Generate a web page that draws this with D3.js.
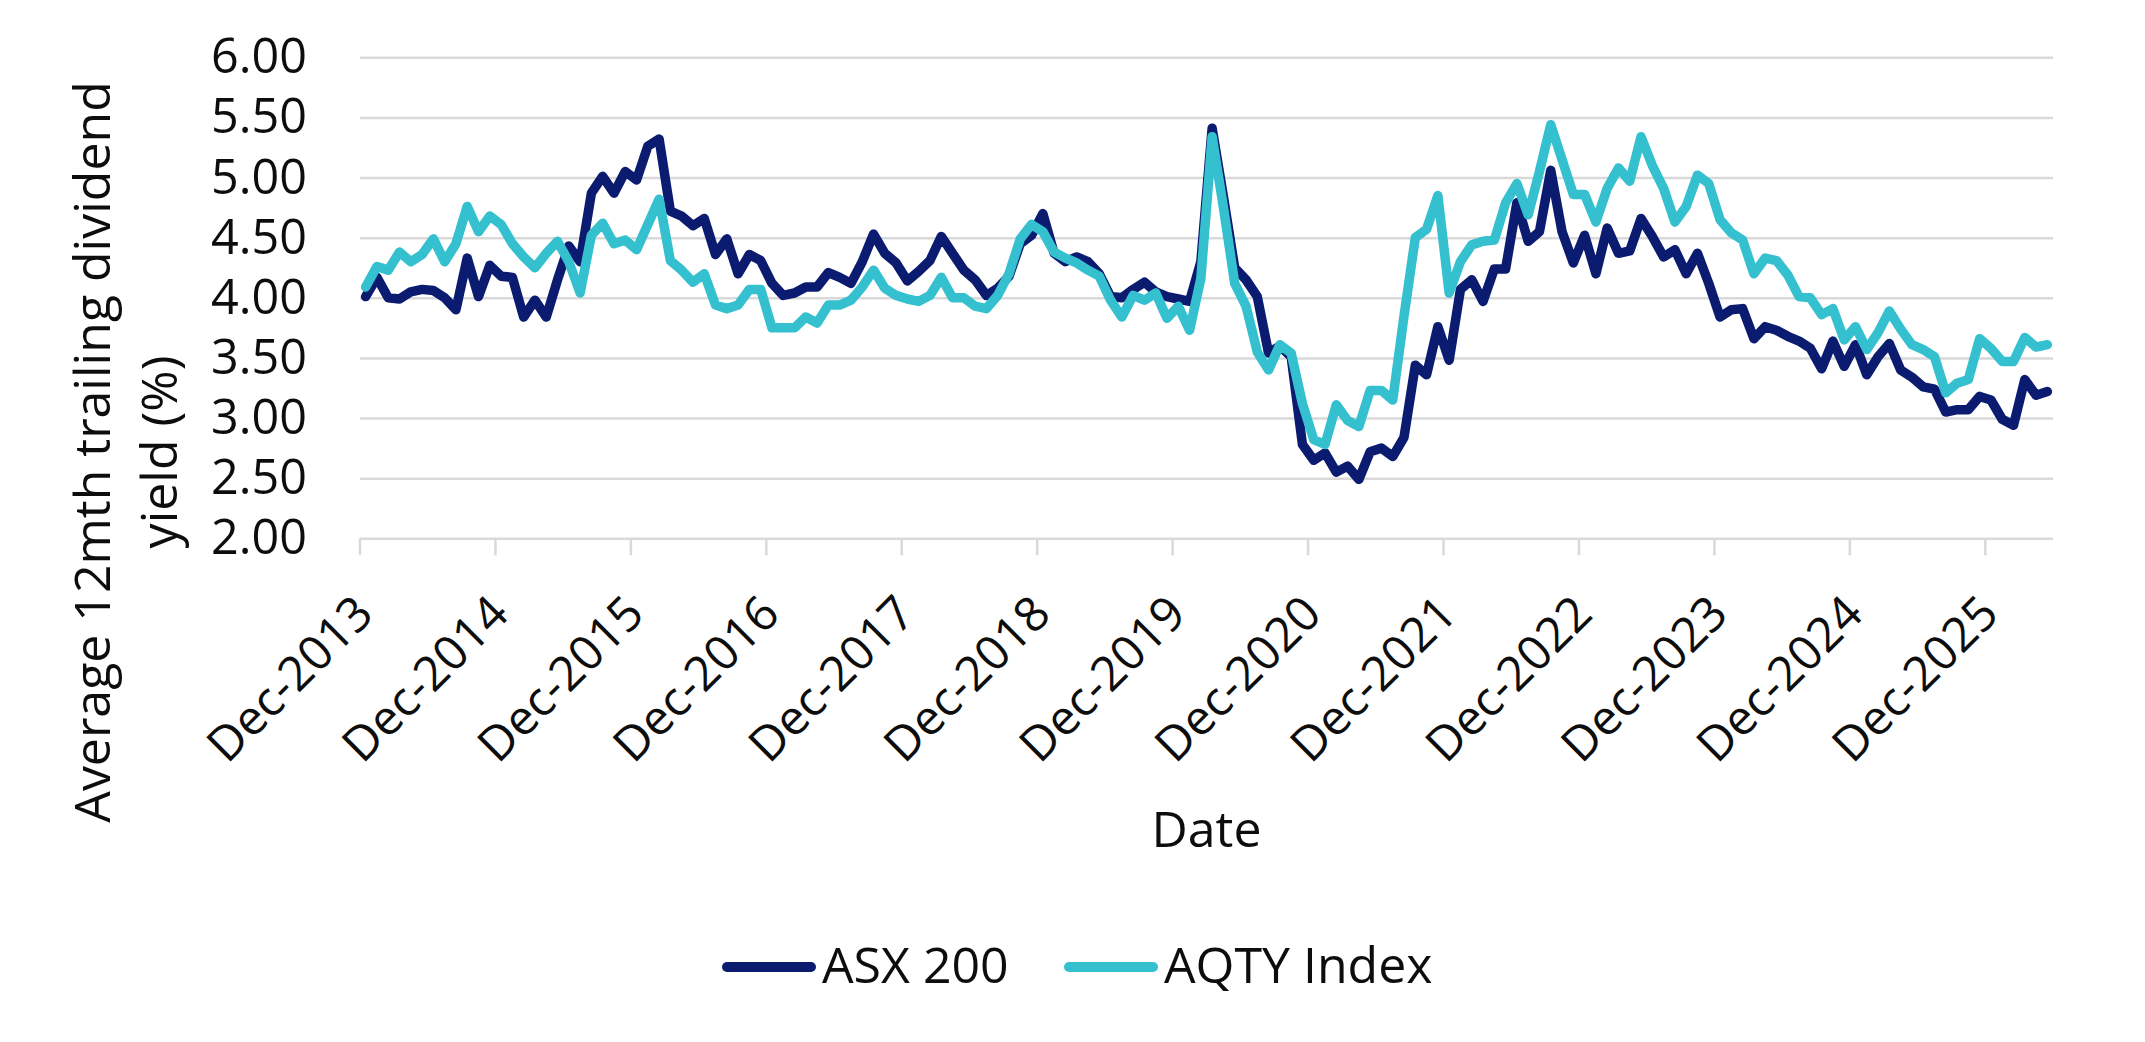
<!DOCTYPE html>
<html><head><meta charset="utf-8">
<script src="https://cdn.jsdelivr.net/npm/d3@7"></script>
<style>html,body{margin:0;padding:0;background:#fff;} svg{display:block;} text{font-family:"Open Sans",sans-serif;fill:#0d0d0d;}</style>
</head><body>
<svg id="chart" width="2145" height="1042"></svg>
<script>
// ---- data ----
const seriesNames = ["ASX 200", "AQTY Index"];
const asx200 = [
4.01,4.17,4.00,3.99,4.05,4.07,4.06,4.00,3.90,4.33,4.01,4.27,
4.18,4.17,3.84,3.98,3.84,4.15,4.43,4.30,4.87,5.01,4.87,5.05,
4.98,5.26,5.32,4.72,4.68,4.60,4.66,4.36,4.49,4.20,4.36,4.31,
4.12,4.02,4.04,4.09,4.09,4.21,4.17,4.12,4.30,4.53,4.37,4.29,
4.14,4.22,4.31,4.51,4.37,4.23,4.15,4.02,4.08,4.18,4.45,4.52,
4.70,4.37,4.30,4.34,4.30,4.20,4.01,4.00,4.07,4.13,4.05,4.01,
3.99,3.97,4.30,5.41,4.84,4.25,4.15,4.01,3.54,3.60,3.51,2.78,
2.65,2.71,2.55,2.60,2.49,2.72,2.75,2.68,2.84,3.44,3.36,3.76,
3.48,4.07,4.15,3.97,4.24,4.24,4.79,4.47,4.55,5.06,4.55,4.29,
4.52,4.20,4.58,4.37,4.39,4.66,4.51,4.34,4.40,4.20,4.37,4.12,
3.84,3.90,3.91,3.66,3.76,3.73,3.68,3.64,3.58,3.41,3.64,3.43,
3.61,3.36,3.51,3.62,3.40,3.34,3.26,3.24,3.05,3.07,3.07,3.18,
3.15,2.99,2.94,3.32,3.19,3.22
];
const aqtyIndex = [
4.09,4.26,4.23,4.38,4.30,4.36,4.49,4.30,4.45,4.76,4.55,4.68,
4.61,4.45,4.34,4.25,4.37,4.47,4.30,4.04,4.52,4.62,4.45,4.48,
4.40,4.61,4.82,4.31,4.23,4.13,4.20,3.94,3.91,3.94,4.07,4.07,
3.75,3.75,3.75,3.84,3.79,3.94,3.94,3.98,4.09,4.23,4.08,4.02,
3.99,3.97,4.02,4.17,4.00,4.00,3.93,3.91,4.02,4.20,4.49,4.61,
4.55,4.38,4.33,4.29,4.23,4.18,3.98,3.84,4.02,3.98,4.04,3.83,
3.93,3.73,4.16,5.34,4.75,4.12,3.93,3.55,3.40,3.61,3.54,3.12,
2.82,2.78,3.11,2.98,2.93,3.23,3.23,3.15,3.85,4.50,4.57,4.85,
4.04,4.30,4.44,4.47,4.48,4.79,4.95,4.69,5.05,5.44,5.15,4.86,
4.86,4.63,4.91,5.08,4.97,5.34,5.10,4.91,4.63,4.76,5.02,4.95,
4.65,4.54,4.48,4.20,4.33,4.31,4.19,4.01,4.00,3.86,3.91,3.65,
3.76,3.57,3.71,3.89,3.74,3.61,3.57,3.51,3.21,3.29,3.32,3.66,
3.58,3.47,3.47,3.67,3.59,3.61
];
const yTicks = [2.0, 2.5, 3.0, 3.5, 4.0, 4.5, 5.0, 5.5, 6.0];
const xTickLabels = ["Dec-2013","Dec-2014","Dec-2015","Dec-2016","Dec-2017","Dec-2018",
  "Dec-2019","Dec-2020","Dec-2021","Dec-2022","Dec-2023","Dec-2024","Dec-2025"];
const yTitleLines = ["Average 12mth  trailing dividend", "yield (%)"];
const xTitle = "Date";

// categories: one per month starting Dec-2013
const fmt = d3.utcFormat("%b-%Y");
const categories = d3.utcMonth.range(new Date(Date.UTC(2013, 11, 1)), new Date(Date.UTC(2013, 11 + asx200.length, 1))).map(fmt);

// ---- layout ----
const colors = ["#0b1c70", "#35c0d0"];
const plot = {left: 360, right: 2053, top: 57.3, bottom: 538.3};
const svg = d3.select("#chart");

const x = d3.scaleBand().domain(categories).range([plot.left, plot.right]).padding(0);
const y = d3.scaleLinear().domain([2, 6]).range([plot.bottom, plot.top]);
const cx = c => x(c) + x.bandwidth() / 2;

// gridlines + y labels
const yAxis = d3.axisLeft(y).tickValues(yTicks).tickFormat(d3.format(".2f"))
  .tickSize(-(plot.right - plot.left)).tickPadding(53);
const gy = svg.append("g").attr("transform", `translate(${plot.left},0)`).call(yAxis);
gy.select(".domain").remove();
gy.selectAll(".tick line").attr("stroke", "#d9d9d9").attr("stroke-width", 2.5);
gy.selectAll(".tick text").attr("font-size", 48.5).attr("fill", "#0d0d0d")
  .attr("font-family", "'Open Sans', sans-serif");

// x axis ticks (category boundaries) and rotated labels
const gx = svg.append("g");
gx.selectAll("line.tk").data(xTickLabels).join("line").attr("class", "tk")
  .attr("x1", d => x(d)).attr("x2", d => x(d))
  .attr("y1", plot.bottom).attr("y2", plot.bottom + 17)
  .attr("stroke", "#d9d9d9").attr("stroke-width", 2.5);
gx.selectAll("text").data(xTickLabels).join("text")
  .attr("text-anchor", "end")
  .attr("font-size", 48)
  .attr("transform", d => `translate(${cx(d) + 10},${plot.bottom + 78}) rotate(-45)`)
  .text(d => d);

// lines
const line = d3.line().x((d, i) => cx(categories[i])).y(d => y(d));
[asx200, aqtyIndex].forEach((s, k) => {
  svg.append("path").datum(s)
    .attr("fill", "none").attr("stroke", colors[k]).attr("stroke-width", 9.5)
    .attr("stroke-linejoin", "round").attr("stroke-linecap", "round")
    .attr("d", line);
});

// axis titles
const yt = svg.append("text").attr("text-anchor", "middle").attr("font-size", 50)
  .attr("transform", "translate(110,452) rotate(-90)");
yt.append("tspan").attr("x", 0).attr("y", 0).text(yTitleLines[0]);
yt.append("tspan").attr("x", 0).attr("y", 67).text(yTitleLines[1]);

svg.append("text").attr("text-anchor", "middle").attr("font-size", 50)
  .attr("x", (plot.left + plot.right) / 2).attr("y", 847).text(xTitle);

// legend
const legendX = [727, 1069];
const lg = svg.selectAll("g.leg").data(seriesNames).join("g").attr("class", "leg")
  .attr("transform", (d, i) => `translate(${legendX[i]},967)`);
lg.append("line").attr("x1", 0).attr("x2", 84).attr("y1", 0).attr("y2", 0)
  .attr("stroke", (d, i) => colors[i]).attr("stroke-width", 10).attr("stroke-linecap", "round");
lg.append("text").attr("x", 95).attr("y", 16).attr("font-size", 50).text(d => d);
</script>
</body></html>
